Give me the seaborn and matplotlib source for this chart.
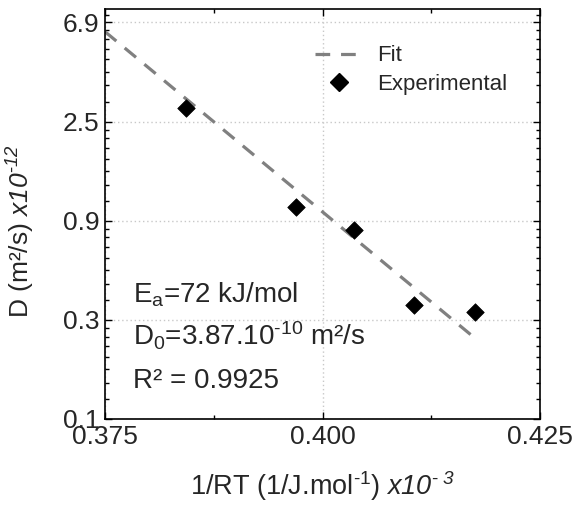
import numpy as np
import pandas as pd
import matplotlib
matplotlib.use("Agg")
import matplotlib.pyplot as plt
from matplotlib.ticker import FixedLocator, FixedFormatter, NullFormatter
from matplotlib.lines import Line2D
import seaborn as sns

# measured points: 1/RT (x1e-3 mol/J) and D (x1e-12 m2/s)
inv_rt = [0.3843, 0.3969, 0.4036, 0.4105, 0.4175]
diff_coef = [2.78, 0.96, 0.753, 0.338, 0.314]

# Arrhenius fit line, end points
fit_x = [0.375, 0.4172]
fit_y = [6.25, 0.243]

y_tick_labels = ["0.1", "0.3", "0.9", "2.5", "6.9"]
x_ticks = [0.375, 0.400, 0.425]
x_tick_labels = ["0.375", "0.400", "0.425"]

annot_lines = [
    r"E$_\mathregular{a}$=72 kJ/mol",
    r"D$_\mathregular{0}$=3.87.10$^\mathregular{\text{-}10}$ m²/s",
    "R² = 0.9925",
]

sns.set_style("ticks")
plt.rcParams["font.family"] = ["Liberation Sans", "DejaVu Sans"]
plt.rcParams["mathtext.fontset"] = "custom"
plt.rcParams["mathtext.rm"] = "Liberation Sans"
plt.rcParams["mathtext.it"] = "Liberation Sans:italic"
# sf slot used for the italic "x10^n" (digits included)
plt.rcParams["mathtext.sf"] = "Liberation Sans:italic"
plt.rcParams["mathtext.default"] = "regular"

points = pd.DataFrame({"x": inv_rt, "D": diff_coef})
fit = pd.DataFrame({"x": fit_x, "D": fit_y})

fig = plt.figure(figsize=(5.76, 5.07), dpi=100)
ax = fig.add_axes([0.1823, 0.1736, 0.7552, 0.8086])

sns.lineplot(data=fit, x="x", y="D", ax=ax, color="#808080", lw=2.3,
             linestyle=(0, (4.6, 3.4)), legend=False)
sns.scatterplot(data=points, x="x", y="D", ax=ax, marker="D", s=80,
                color="black", edgecolor="black", linewidth=0.5, legend=False,
                zorder=3)

ax.set_yscale("log")
ax.set_xlim(0.375, 0.425)
ax.set_ylim(0.1, 7.96)

# equally spaced (log) major ticks, labelled as in the original
ymaj = np.geomspace(0.1, 6.9, 5)
ax.yaxis.set_major_locator(FixedLocator(ymaj))
ax.yaxis.set_major_formatter(FixedFormatter(y_tick_labels))
yminor = []
for lo, hi in zip(ymaj[:-1], ymaj[1:]):
    yminor.extend(np.linspace(lo, hi, 9)[1:-1])
yminor.append(7.5)
ax.yaxis.set_minor_locator(FixedLocator(yminor))
ax.yaxis.set_minor_formatter(NullFormatter())

ax.set_xticks(x_ticks)
ax.set_xticklabels(x_tick_labels)
ax.set_xticks([0.3875, 0.4125], minor=True)

ax.tick_params(which="both", direction="in", top=True, right=True,
               labelsize=19, width=1, color="black")
ax.tick_params(which="major", length=5, pad=4)
ax.tick_params(which="minor", length=3)
for s in ax.spines.values():
    s.set_linewidth(1.2)
    s.set_color("black")

ax.grid(True, which="major", linestyle=(0, (1, 2)), color="#c8c8c8", lw=1)

ax.set_xlabel(r"1/RT (1/J.mol$^\mathregular{\text{-}1}$) $\mathsf{x10^{\text{-}\ 3}}$",
              fontsize=19.5)
ax.set_ylabel(r"D (m²/s) $\mathsf{x10^{\text{-}12}}$", fontsize=19)
ax.xaxis.set_label_coords(0.5, -0.122)
ax.yaxis.set_label_coords(-0.156, 0.458)

for i, txt in enumerate(annot_lines):
    ax.text(0.065, 0.285 - i * 0.105, txt, transform=ax.transAxes,
            fontsize=20, ha="left", va="baseline")

handles = [
    Line2D([], [], color="#808080", lw=2.3, linestyle=(0, (4.6, 3.4))),
    Line2D([], [], color="black", marker="D", markersize=9, linestyle="none"),
]
ax.legend(handles, ["Fit", "Experimental"], loc="upper right",
          bbox_to_anchor=(0.97, 0.96), frameon=False, fontsize=16,
          handlelength=2.2, handletextpad=0.6, labelspacing=0.35)

fig.savefig("out.png", dpi=100)
